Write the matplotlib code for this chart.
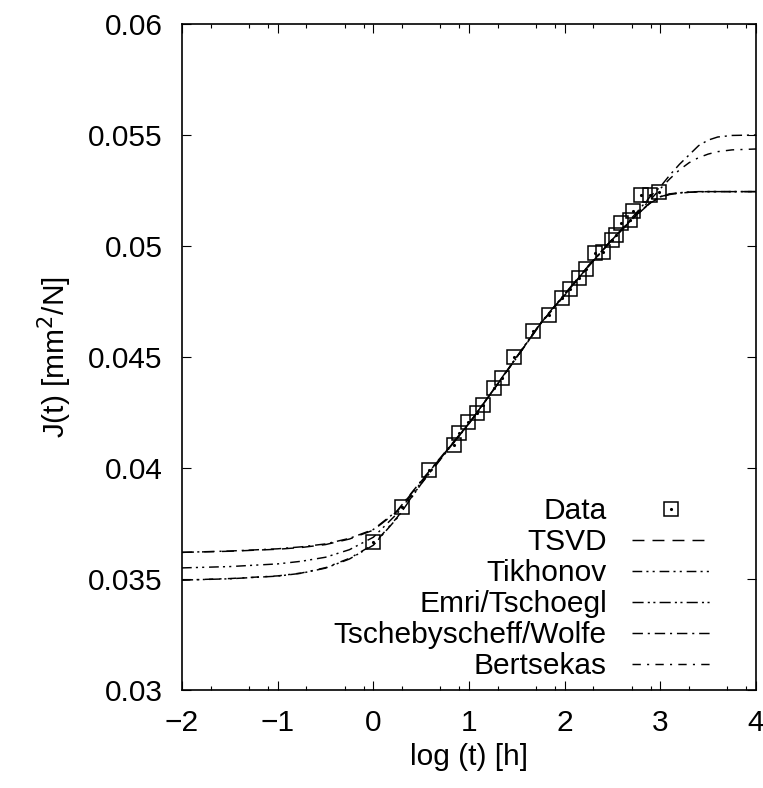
"""
Creep compliance J(t) versus log time: measured points and five fitted
retardation spectra (TSVD, Tikhonov, Emri/Tschoegl, Tschebyscheff/Wolfe,
Bertsekas).
"""
import matplotlib
matplotlib.use('Agg')
import matplotlib.pyplot as plt
from matplotlib.legend_handler import HandlerTuple

# measured data
log_t = [0.00, 0.30, 0.58, 0.84, 0.90, 0.99, 1.08, 1.15, 1.26, 1.34,
         1.47, 1.67, 1.84, 1.97, 2.06, 2.15, 2.22, 2.32, 2.40, 2.49,
         2.54, 2.59, 2.68, 2.71, 2.80, 2.89, 2.99]
J_data = [0.03668, 0.03826, 0.03991, 0.04104, 0.04156, 0.04206, 0.04246,
          0.04284, 0.04362, 0.04405, 0.04501, 0.04619, 0.04689, 0.04764,
          0.04805, 0.04857, 0.04896, 0.04970, 0.04974, 0.05027, 0.05050,
          0.05102, 0.05117, 0.05159, 0.05230, 0.05230, 0.05245]

x_fit = [-2, -1.5, -1, -0.75, -0.5, -0.25, 0, 0.25, 0.5, 0.75, 1, 1.25, 1.5,
         1.75, 2, 2.25, 2.5, 2.75, 2.9, 3.0, 3.1, 3.2, 3.3, 3.4, 3.5, 3.6,
         3.75, 4]
J_tsvd = [0.03620, 0.03625, 0.03634, 0.03642, 0.03655, 0.03680, 0.03720,
          0.03805, 0.03940, 0.04070, 0.04200, 0.04348, 0.04500, 0.04652,
          0.04780, 0.04910, 0.05030, 0.05140, 0.05195, 0.05220, 0.05232,
          0.05238, 0.05242, 0.05244, 0.05245, 0.05245, 0.05245, 0.05245]
J_tikhonov = [0.03550, 0.03556, 0.03568, 0.03580, 0.03598, 0.03632, 0.03688,
              0.03795, 0.03935, 0.04068, 0.04200, 0.04348, 0.04500, 0.04652,
              0.04782, 0.04912, 0.05032, 0.05140, 0.05198, 0.05222, 0.05235,
              0.05240, 0.05243, 0.05245, 0.05245, 0.05245, 0.05245, 0.05245]
J_emri = [0.03495, 0.03501, 0.03513, 0.03526, 0.03549, 0.03590, 0.03652,
          0.03775, 0.03928, 0.04065, 0.04200, 0.04350, 0.04502, 0.04655,
          0.04784, 0.04912, 0.05030, 0.05138, 0.05196, 0.05222, 0.05234,
          0.05239, 0.05242, 0.05244, 0.05245, 0.05245, 0.05245, 0.05245]
J_tscheby = [0.03620, 0.03626, 0.03636, 0.03645, 0.03658, 0.03683, 0.03723,
             0.03808, 0.03942, 0.04072, 0.04202, 0.04348, 0.04498, 0.04650,
             0.04778, 0.04908, 0.05030, 0.05150, 0.05225, 0.05267, 0.05320,
             0.05368, 0.05410, 0.05452, 0.05477, 0.05491, 0.05498, 0.05500]
J_bertsekas = [0.03495, 0.03502, 0.03514, 0.03527, 0.03551, 0.03593, 0.03655,
               0.03778, 0.03930, 0.04066, 0.04200, 0.04350, 0.04500, 0.04652,
               0.04782, 0.04910, 0.05030, 0.05145, 0.05210, 0.05258, 0.05303,
               0.05343, 0.05375, 0.05398, 0.05414, 0.05425, 0.05433, 0.05437]

fit_labels = ['TSVD', 'Tikhonov', 'Emri/Tschoegl', 'Tschebyscheff/Wolfe', 'Bertsekas']
fit_values = [J_tsvd, J_tikhonov, J_emri, J_tscheby, J_bertsekas]

x_ticks = [-2, -1, 0, 1, 2, 3, 4]
x_ticklabels = ['\u22122', '\u22121', '0', '1', '2', '3', '4']
y_ticks = [0.03, 0.035, 0.04, 0.045, 0.05, 0.055, 0.06]
y_ticklabels = ['0.03', '0.035', '0.04', '0.045', '0.05', '0.055', '0.06']

# gnuplot-like dash patterns (points)
dash_styles = [(8.6, 5.8), (7, 3, 1.5, 3, 1.5, 3.5), (8, 3, 1.5, 2.5, 1.5, 3),
               (7.5, 3.5, 1.5, 3.5), (6, 4.5, 1.5, 4.5)]

plt.rcParams['font.family'] = ['Liberation Sans', 'DejaVu Sans']
plt.rcParams['font.size'] = 21.5
plt.rcParams['lines.scale_dashes'] = False

W, H = 763, 788
fig = plt.figure(figsize=(W / 100, H / 100), dpi=100)
ax = fig.add_axes([182 / W, 1 - 690 / H, (756 - 182) / W, (690 - 24) / H])

handles = []
for vals, dash in zip(fit_values, dash_styles):
    line, = ax.plot(x_fit, vals, color='black', lw=1.05, dashes=dash)
    handles.append(line)

sq, = ax.plot(log_t, J_data, ls='none', marker='s', ms=10.2, mfc='none',
              mec='black', mew=1.1, zorder=3)
dot, = ax.plot(log_t, J_data, ls='none', marker='.', ms=2.5, color='black', zorder=3)

ax.set_xlim(-2, 4)
ax.set_ylim(0.03, 0.06)
ax.set_xticks(x_ticks)
ax.set_xticklabels(x_ticklabels)
ax.set_xticks([n + f for n in range(-2, 4) for f in (0.3, 0.7, 0.9)], minor=True)
ax.set_yticks(y_ticks)
ax.set_yticklabels(y_ticklabels)
ax.tick_params(which='both', direction='in', top=True, right=True, width=0.8)
ax.tick_params(which='major', length=6.5, pad=14)
ax.tick_params(which='minor', length=3)
for sp in ax.spines.values():
    sp.set_linewidth(1.2)

ax.set_xlabel('log (t) [h]', labelpad=4)
ax.set_ylabel('J(t) [mm$^2$/N]', labelpad=10)

ax.legend([(sq, dot)] + handles, ['Data'] + fit_labels,
          handler_map={tuple: HandlerTuple(ndivide=1)},
          loc='lower right', frameon=False, markerfirst=False, numpoints=1,
          handlelength=2.6, handletextpad=0.85, labelspacing=0.1,
          borderpad=0.0, borderaxespad=0.0,
          bbox_to_anchor=(710 / W, 1 - 680 / H), bbox_transform=fig.transFigure)

fig.savefig('out.png', dpi=100)
